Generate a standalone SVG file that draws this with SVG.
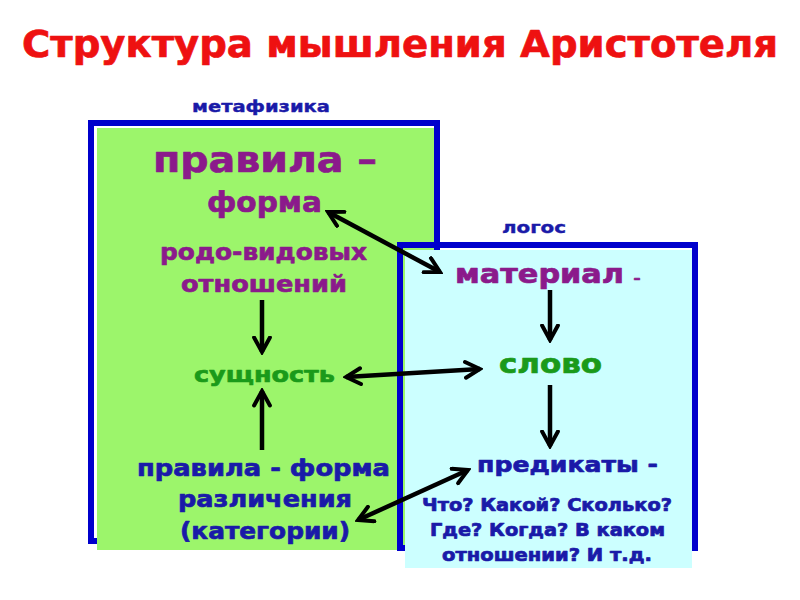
<svg xmlns="http://www.w3.org/2000/svg" width="800" height="600" viewBox="0 0 800 600">
<style>
text{font-family:"DejaVu Sans","Liberation Sans",Arial,sans-serif;font-weight:bold;text-anchor:middle;stroke-width:0.7;stroke-linejoin:round}
.title{fill:#ee1111;stroke:#ee1111;font-size:37px}
.lbl{fill:#1a1aa8;stroke:#1a1aa8;font-size:16px;stroke-width:0.4}
.pur{fill:#8b1a8b;stroke:#8b1a8b}
.grn{fill:#1a9a1a;stroke:#1a9a1a}
.blu{fill:#1a1aa8;stroke:#1a1aa8}
.frame{fill:none;stroke:#0000cc;stroke-width:6}
.arr{fill:none;stroke:#000;stroke-width:4.5}
</style>
<defs>
<marker id="ah" viewBox="0 0 12 12" refX="10" refY="6" markerWidth="4.4" markerHeight="4.4" markerUnits="strokeWidth" orient="auto-start-reverse">
<path d="M1.2,1.2 L10,6 L1.2,10.8" fill="none" stroke="#000" stroke-width="2.4" stroke-linecap="round"/>
</marker>
</defs>
<rect width="800" height="600" fill="#fff"/>
<text class="title" x="400" y="57" textLength="756" lengthAdjust="spacingAndGlyphs">Структура мышления Аристотеля</text>

<g id="metaphysics">
<text class="lbl" x="261" y="112" textLength="138" lengthAdjust="spacingAndGlyphs">метафизика</text>
<rect class="frame" x="91" y="123" width="346" height="418"/>
<rect x="97" y="128" width="337" height="422" fill="#9cf56b"/>
<text class="pur" x="265" y="172" font-size="36" textLength="224" lengthAdjust="spacingAndGlyphs">правила –</text>
<text class="pur" x="264.5" y="212" font-size="28" textLength="115" lengthAdjust="spacingAndGlyphs">форма</text>
<text class="pur" x="263.5" y="260" font-size="23" textLength="207" lengthAdjust="spacingAndGlyphs">родо-видовых</text>
<text class="pur" x="264" y="292" font-size="23" textLength="166" lengthAdjust="spacingAndGlyphs">отношений</text>
<text class="grn" x="264.5" y="382" font-size="22" textLength="141" lengthAdjust="spacingAndGlyphs">сущность</text>
<text class="blu" x="263.5" y="476" font-size="23" textLength="253" lengthAdjust="spacingAndGlyphs">правила - форма</text>
<text class="blu" x="265" y="507" font-size="23" textLength="174" lengthAdjust="spacingAndGlyphs">различения</text>
<text class="blu" x="265" y="539" font-size="23" textLength="170" lengthAdjust="spacingAndGlyphs">(категории)</text>
</g>

<g id="logos">
<text class="lbl" x="534" y="233" textLength="64" lengthAdjust="spacingAndGlyphs">логос</text>
<rect class="frame" x="400" y="245" width="295" height="303"/>
<rect x="405" y="250" width="287" height="318" fill="#ccffff"/>
<text class="pur" x="539.5" y="283" font-size="26" textLength="169" lengthAdjust="spacingAndGlyphs">материал</text>
<text class="pur" x="637" y="283" font-size="14">–</text>
<text class="grn" x="550.5" y="373" font-size="26" textLength="103" lengthAdjust="spacingAndGlyphs">слово</text>
<text class="blu" x="567.5" y="472" font-size="22" textLength="181" lengthAdjust="spacingAndGlyphs">предикаты -</text>
<text class="blu" x="547" y="511" font-size="17" textLength="250" lengthAdjust="spacingAndGlyphs">Что? Какой? Сколько?</text>
<text class="blu" x="547.5" y="536" font-size="17" textLength="235" lengthAdjust="spacingAndGlyphs">Где? Когда? В каком</text>
<text class="blu" x="547" y="561" font-size="17" textLength="210" lengthAdjust="spacingAndGlyphs">отношении? И т.д.</text>
</g>

<g id="connectors">
<line class="arr" x1="328" y1="212" x2="440" y2="272" marker-start="url(#ah)" marker-end="url(#ah)"/>
<line class="arr" x1="262" y1="300" x2="262" y2="352" marker-end="url(#ah)"/>
<line class="arr" x1="262" y1="450" x2="262" y2="391" marker-end="url(#ah)"/>
<line class="arr" x1="346" y1="377" x2="480" y2="369" marker-start="url(#ah)" marker-end="url(#ah)"/>
<line class="arr" x1="550" y1="290" x2="550" y2="340" marker-end="url(#ah)"/>
<line class="arr" x1="550" y1="385" x2="550" y2="446" marker-end="url(#ah)"/>
<line class="arr" x1="358" y1="520" x2="468" y2="470" marker-start="url(#ah)" marker-end="url(#ah)"/>
</g>
</svg>
